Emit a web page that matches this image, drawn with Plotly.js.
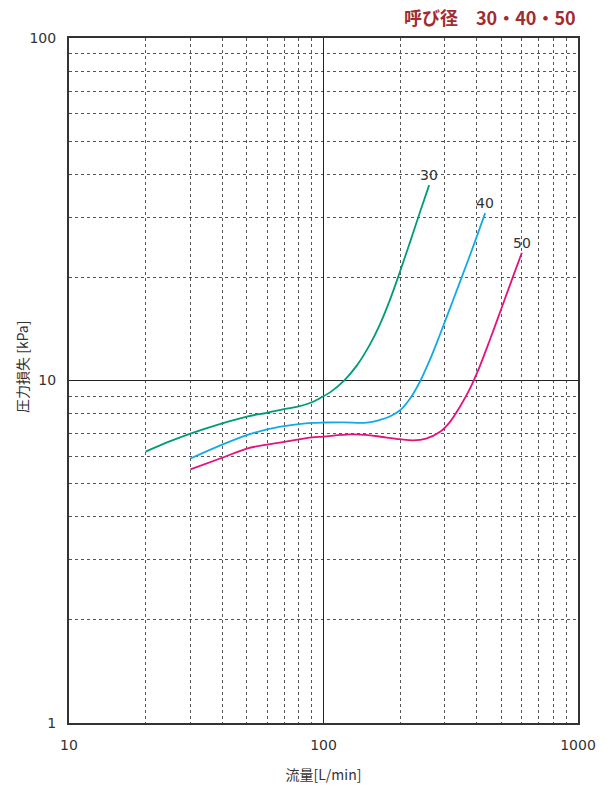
<!DOCTYPE html>
<html><head><meta charset="utf-8">
<script src="https://cdn.plot.ly/plotly-3.0.1.min.js"></script>
<style>html,body{margin:0;padding:0;background:#fff}</style>
</head><body><div id="c" style="width:616px;height:793px"></div>
<script>
const flow30 = [20, 25, 30, 40, 50, 60, 70, 80, 90, 96.6, 107.7, 121, 135.1, 151.9, 166.3, 182.1, 199.4, 218.3, 238.9, 260.1];
const loss30 = [6.2, 6.65, 7.0, 7.5, 7.85, 8.05, 8.25, 8.4, 8.64, 8.87, 9.31, 10.03, 11.05, 12.71, 14.54, 17.14, 20.7, 25.23, 30.87, 37.2];
const flow40 = [30, 40, 50, 60, 70, 80, 90, 100, 120, 147.5, 166.3, 182.1, 199.4, 218.3, 238.9, 261.7, 286.4, 313.5, 343.2, 385, 431.6];
const loss40 = [5.92, 6.5, 6.93, 7.2, 7.36, 7.46, 7.52, 7.54, 7.55, 7.53, 7.67, 7.85, 8.17, 8.83, 9.9, 11.48, 13.58, 16.19, 19.35, 24.3, 30.8];
const flow50 = [30, 40, 50, 60, 70, 80, 90, 100, 127, 150, 171, 200, 225, 253, 286.3, 313.6, 343.2, 375.7, 411.5, 450.4, 480, 515.9, 555, 601.7];
const loss50 = [5.5, 5.95, 6.33, 6.5, 6.62, 6.73, 6.82, 6.86, 6.96, 6.93, 6.84, 6.74, 6.69, 6.77, 7.07, 7.56, 8.37, 9.45, 11.02, 13.13, 14.93, 17.3, 20.07, 23.6];
const names = ['30', '40', '50'];
const xTickVals = [10, 100, 1000];
const xTickText = ['10', '100', '1000'];
const yTickVals = [1, 10, 100];
const yTickText = ['1', '10', '100'];

const series = [[flow30, loss30, '#009b77'], [flow40, loss40, '#14a9e6'], [flow50, loss50, '#e5127d']];
const traces = series.map((s, i) => ({
  x: s[0], y: s[1], type: 'scatter', mode: 'lines', name: names[i],
  line: {color: s[2], width: 1.8, shape: 'spline', smoothing: 1.0, simplify: false},
  hoverinfo: 'skip'
}));

const gridDash = {showgrid: true, gridcolor: '#555', griddash: '3px,3px', gridwidth: 1, dtick: 'D1', ticklen: 0};
const annots = series.map((s, i) => ({
  x: Math.log10(s[0][s[0].length - 1]), y: Math.log10(s[1][s[1].length - 1]),
  xref: 'x', yref: 'y', text: names[i], showarrow: false,
  xanchor: 'center', yanchor: 'bottom', yshift: 0,
  font: {family: 'DejaVu Sans, sans-serif', size: 14, color: '#333'}
}));
annots.push({
  x: 1, y: 1, xref: 'paper', yref: 'paper', xanchor: 'right', yanchor: 'bottom', yshift: 6,
  text: '<b>呼び径　30・40・50</b>', showarrow: false,
  font: {family: 'Noto Sans CJK JP, sans-serif', size: 18, color: '#a32a2e'}
});
annots.push({
  x: -0.092, y: 0.52, xref: 'paper', yref: 'paper', xanchor: 'center', yanchor: 'middle',
  text: '圧力損失 [kPa]', textangle: -90, showarrow: false,
  font: {family: 'Noto Sans CJK JP, sans-serif', size: 14, color: '#333'}
});

const layout = {
  width: 616, height: 793,
  margin: {l: 69, r: 38, t: 38, b: 70},
  paper_bgcolor: '#fff', plot_bgcolor: '#fff',
  showlegend: false,
  font: {family: 'DejaVu Sans, sans-serif', size: 14, color: '#333'},
  xaxis: {
    type: 'log', range: [1, 3], tickvals: xTickVals, ticktext: xTickText,
    showgrid: true, gridcolor: '#222', gridwidth: 1.5, ticks: '', ticklabelstandoff: 8,
    showline: true, linecolor: '#333', linewidth: 2, mirror: true, zeroline: false,
    minor: gridDash,
    tickfont: {family: 'DejaVu Sans, sans-serif', size: 14, color: '#333'},
    title: {text: '流量[L/min]', font: {family: 'Noto Sans CJK JP, sans-serif', size: 14, color: '#333'}, standoff: 18}
  },
  yaxis: {
    type: 'log', range: [0, 2], tickvals: yTickVals, ticktext: yTickText,
    showgrid: true, gridcolor: '#222', gridwidth: 1.5, ticks: '', ticklabelstandoff: 8,
    showline: true, linecolor: '#333', linewidth: 2, mirror: true, zeroline: false,
    minor: gridDash,
    tickfont: {family: 'DejaVu Sans, sans-serif', size: 14, color: '#333'}
  },
  annotations: annots
};
Plotly.newPlot('c', traces, layout, {staticPlot: true});
</script></body></html>
